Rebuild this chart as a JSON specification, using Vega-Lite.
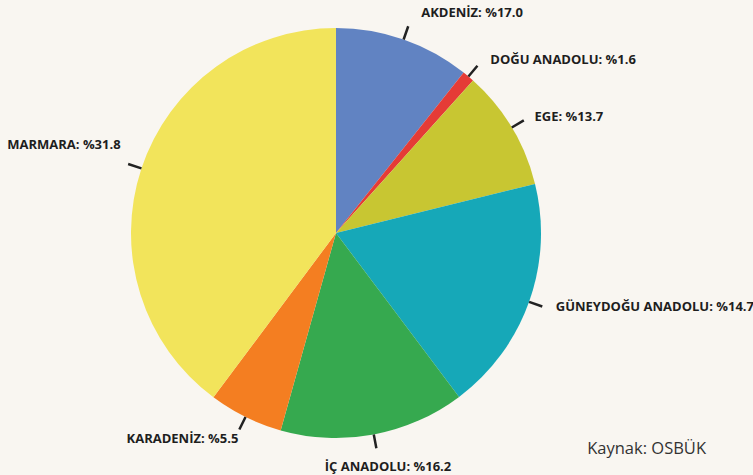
{
  "$schema": "https://vega.github.io/schema/vega-lite/v6.json",
  "width": 672,
  "height": 466,
  "autosize": {"type": "none"},
  "padding": {"left": 0, "top": 0, "right": 81, "bottom": 9},
  "background": "#F9F6F1",
  "view": {"stroke": null},
  "title": {
    "text": "Kaynak: OSBÜK",
    "orient": "bottom",
    "anchor": "end",
    "frame": "group",
    "font": "Open Sans",
    "fontSize": 16.5,
    "fontWeight": "normal",
    "color": "#333333",
    "offset": 0,
    "dx": 34,
    "dy": -33
  },
  "data": {
    "values": [
      {"bolge": "AKDENİZ", "etiket": "AKDENİZ: %17.0", "pay": 10.7, "sira": 1},
      {"bolge": "DOĞU ANADOLU", "etiket": "DOĞU ANADOLU: %1.6", "pay": 0.95, "sira": 2},
      {"bolge": "EGE", "etiket": "EGE: %13.7", "pay": 9.5, "sira": 3},
      {"bolge": "GÜNEYDOĞU ANADOLU", "etiket": "GÜNEYDOĞU ANADOLU: %14.7", "pay": 18.6, "sira": 4},
      {"bolge": "İÇ ANADOLU", "etiket": "İÇ ANADOLU: %16.2", "pay": 14.6, "sira": 5},
      {"bolge": "KARADENİZ", "etiket": "KARADENİZ: %5.5", "pay": 5.85, "sira": 6},
      {"bolge": "MARMARA", "etiket": "MARMARA: %31.8", "pay": 39.8, "sira": 7}
    ]
  },
  "encoding": {
    "theta": {"field": "pay", "type": "quantitative", "stack": true},
    "order": {"field": "sira", "type": "quantitative"},
    "detail": {"field": "bolge", "type": "nominal"}
  },
  "layer": [
    {
      "mark": {"type": "arc", "radius": 205},
      "encoding": {
        "color": {
          "field": "bolge",
          "type": "nominal",
          "legend": null,
          "scale": {
            "domain": ["AKDENİZ", "DOĞU ANADOLU", "EGE", "GÜNEYDOĞU ANADOLU", "İÇ ANADOLU", "KARADENİZ", "MARMARA"],
            "range": ["#6183C2", "#E53B36", "#C8C632", "#16A8B8", "#36A94F", "#F47E21", "#F2E45B"]
          }
        }
      }
    },
    {
      "mark": {"type": "arc", "radius": 219, "radius2": 205, "padAngle": 3.1, "fillOpacity": 0, "stroke": "#222222", "strokeWidth": 2.5}
    },
    {
      "mark": {"type": "text", "radius": 228, "align": "left", "baseline": "middle", "dx": 10, "dy": -5, "font": "Open Sans", "fontWeight": "bold", "fontSize": 13, "color": "#1E1E1E"},
      "encoding": {"text": {"condition": {"test": "datum.bolge === 'AKDENİZ'", "field": "etiket"}, "value": ""}}
    },
    {
      "mark": {"type": "text", "radius": 228, "align": "left", "baseline": "middle", "dx": 7, "dy": 1, "font": "Open Sans", "fontWeight": "bold", "fontSize": 13, "color": "#1E1E1E"},
      "encoding": {"text": {"condition": {"test": "datum.bolge === 'DOĞU ANADOLU'", "field": "etiket"}, "value": ""}}
    },
    {
      "mark": {"type": "text", "radius": 228, "align": "left", "baseline": "middle", "dx": 3, "dy": 1, "font": "Open Sans", "fontWeight": "bold", "fontSize": 13, "color": "#1E1E1E"},
      "encoding": {"text": {"condition": {"test": "datum.bolge === 'EGE'", "field": "etiket"}, "value": ""}}
    },
    {
      "mark": {"type": "text", "radius": 228, "align": "left", "baseline": "middle", "dx": 5, "dy": -3, "font": "Open Sans", "fontWeight": "bold", "fontSize": 13, "color": "#1E1E1E"},
      "encoding": {"text": {"condition": {"test": "datum.bolge === 'GÜNEYDOĞU ANADOLU'", "field": "etiket"}, "value": ""}}
    },
    {
      "mark": {"type": "text", "radius": 228, "align": "center", "baseline": "middle", "dx": 10, "dy": 10, "font": "Open Sans", "fontWeight": "bold", "fontSize": 13, "color": "#1E1E1E"},
      "encoding": {"text": {"condition": {"test": "datum.bolge === 'İÇ ANADOLU'", "field": "etiket"}, "value": ""}}
    },
    {
      "mark": {"type": "text", "radius": 228, "align": "right", "baseline": "middle", "dx": 3, "dy": 1, "font": "Open Sans", "fontWeight": "bold", "fontSize": 13, "color": "#1E1E1E"},
      "encoding": {"text": {"condition": {"test": "datum.bolge === 'KARADENİZ'", "field": "etiket"}, "value": ""}}
    },
    {
      "mark": {"type": "text", "radius": 228, "align": "right", "baseline": "middle", "dx": 1, "dy": -16, "font": "Open Sans", "fontWeight": "bold", "fontSize": 13, "color": "#1E1E1E"},
      "encoding": {"text": {"condition": {"test": "datum.bolge === 'MARMARA'", "field": "etiket"}, "value": ""}}
    }
  ]
}
